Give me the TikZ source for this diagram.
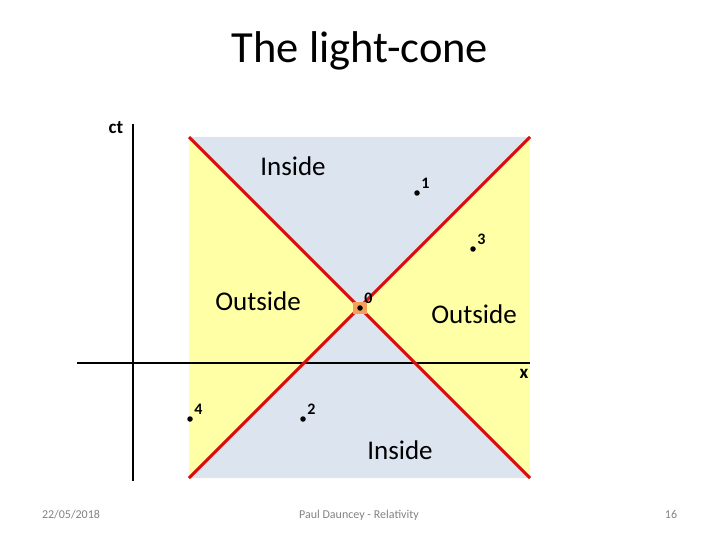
\documentclass[tikz,border=0pt]{standalone}
\usepackage{fontspec}
\setmainfont{Carlito}
\usetikzlibrary{positioning}
\definecolor{coneyellow}{RGB}{255,255,165}
\definecolor{coneblue}{RGB}{220,228,240}
\definecolor{conered}{RGB}{218,12,12}
\definecolor{eventorange}{RGB}{244,160,92}
\definecolor{footgray}{RGB}{130,130,130}

\begin{document}
\begin{tikzpicture}[x=1pt, y=-1pt,
  event/.style={circle, fill=black, inner sep=0pt, minimum size=5.5pt},
  evlabel/.style={font=\bfseries\fontsize{16}{16}\selectfont, inner sep=1pt, label distance=1.5pt},
  region/.style={font=\fontsize{27}{27}\selectfont},
  axislabel/.style={font=\bfseries\fontsize{19}{19}\selectfont},
  axis/.style={line width=2.8pt},
  cone/.style={conered, line width=3pt},
  footer/.style={font=\fontsize{12}{12}\selectfont, text=footgray, anchor=base}
]
  \useasboundingbox (0,0) rectangle (720,540);
  \node[font=\fontsize{44.5}{44.5}\selectfont] (title) at (360,51) {The light-cone};

  % corners of the plot
  \coordinate (tl) at (189,137);
  \coordinate (tr) at (530,137);
  \coordinate (bl) at (189,478);
  \coordinate (br) at (530,478);
  \coordinate (apex) at (359.5,307.5);

  \fill[coneyellow] (tl) rectangle (br);
  \fill[coneblue] (tl) -- (tr) -- (apex) -- cycle;
  \fill[coneblue] (bl) -- (br) -- (apex) -- cycle;

  % axes
  \coordinate (cttop) at (133,124);
  \coordinate (ctbot) at (133,481);
  \coordinate (xleft) at (77,363);
  \coordinate (xright) at (530,363);
  \draw[axis] (cttop) -- (ctbot);
  \draw[axis] (xleft) -- (xright);
  \node[axislabel] (ct) at (116,128) {ct};
  \node[axislabel] (xlab) at (524,374) {x};

  % light-cone
  \draw[cone] (tl) -- (br);
  \draw[cone] (tr) -- (bl);

  \node[region] (intop) at (293,166) {Inside};
  \node[region] (inbot) at (400,450) {Inside};
  \node[region] (outleft) at (258,301) {Outside};
  \node[region] (outright) at (474,314) {Outside};

  % events
  \node[fill=eventorange, inner sep=0pt, minimum width=14pt, minimum height=12pt] (glow) at (360,308) {};
  \node[event, label={[evlabel]above right:0}] (e0) at (360,308) {};
  \node[event, label={[evlabel]above right:1}] (e1) at (417,193) {};
  \node[event, label={[evlabel]above right:3}] (e3) at (473,249) {};
  \node[event, label={[evlabel]above right:4}] (e4) at (190,419) {};
  \node[event, label={[evlabel]above right:2}] (e2) at (303,419) {};

  % footer
  \node[footer] (date) at (71,518) {22/05/2018};
  \node[footer] (author) at (359,518) {Paul Dauncey - Relativity};
  \node[footer] (page) at (671,518) {16};
\end{tikzpicture}
\end{document}
